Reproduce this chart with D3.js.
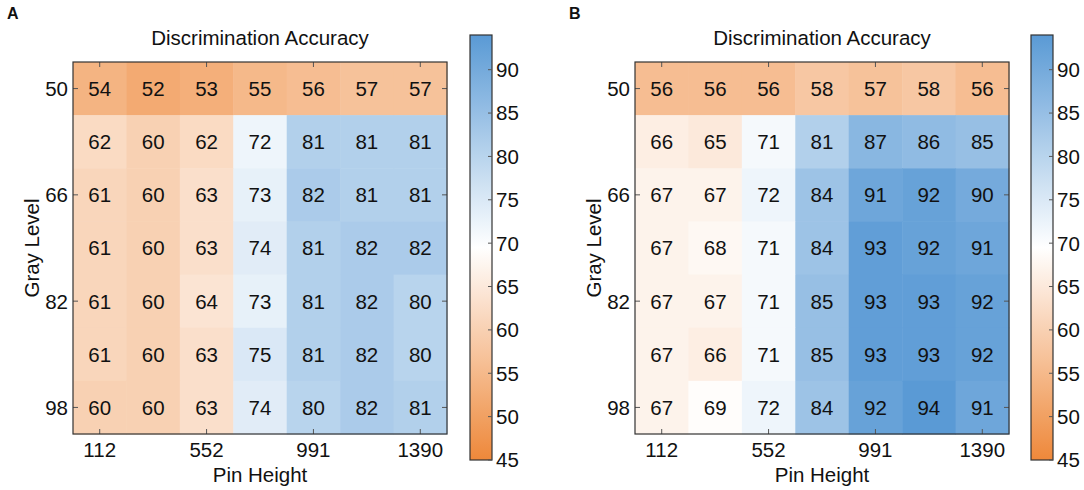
<!DOCTYPE html>
<html>
<head>
<meta charset="utf-8">
<script src="https://cdn.jsdelivr.net/npm/d3@7"></script>
<style>
  body { margin: 0; background: #fff; }
  svg text { font-family: Arial, "Liberation Sans", sans-serif; fill: #111; }
</style>
</head>
<body>
<svg id="chart" width="1084" height="490"></svg>
<script>
// rows = gray level, columns = pin height
var grayLevels = [50, 58, 66, 74, 82, 90, 98];
var pinIndex = [0, 1, 2, 3, 4, 5, 6];
var yTickValues = [50, 66, 82, 98];
var xTickIndex = [0, 2, 4, 6];
var xTickLabels = ["112", "552", "991", "1390"];
var cbarTicks = [45, 50, 55, 60, 65, 70, 75, 80, 85, 90];

var accuracyA = [
    [54, 52, 53, 55, 56, 57, 57],
    [62, 60, 62, 72, 81, 81, 81],
    [61, 60, 63, 73, 82, 81, 81],
    [61, 60, 63, 74, 81, 82, 82],
    [61, 60, 64, 73, 81, 82, 80],
    [61, 60, 63, 75, 81, 82, 80],
    [60, 60, 63, 74, 80, 82, 81]
];
var accuracyB = [
    [56, 56, 56, 58, 57, 58, 56],
    [66, 65, 71, 81, 87, 86, 85],
    [67, 67, 72, 84, 91, 92, 90],
    [67, 68, 71, 84, 93, 92, 91],
    [67, 67, 71, 85, 93, 93, 92],
    [67, 66, 71, 85, 93, 93, 92],
    [67, 69, 72, 84, 92, 94, 91]
];

var vmin = 45, vmax = 94;
var color = d3.scaleLinear()
    .domain([vmin, (vmin + vmax) / 2, vmax])
    .range(["#ee883a", "#ffffff", "#5a9ad5"]);

var svg = d3.select("#chart");
var fs = "20.5px";

function drawPanel(letter, data, left, cbLeft) {
    var top = 62, bottom = 434, right = left + 374;
    var g = svg.append("g");

    var x = d3.scaleBand().domain(pinIndex).range([left, right]);
    var y = d3.scaleBand().domain(grayLevels).range([top, bottom]);

    // cells
    var cells = [];
    data.forEach(function(row, i) {
        row.forEach(function(v, j) {
            cells.push({row: grayLevels[i], col: pinIndex[j], value: v});
        });
    });

    g.selectAll(".cell")
        .data(cells)
        .enter().append("rect")
        .attr("class", "cell")
        .attr("x", function(d) { return x(d.col); })
        .attr("y", function(d) { return y(d.row); })
        .attr("width", x.bandwidth() + 0.5)
        .attr("height", y.bandwidth() + 0.5)
        .style("fill", function(d) { return color(d.value); });

    g.selectAll(".lbl")
        .data(cells)
        .enter().append("text")
        .attr("class", "lbl")
        .attr("x", function(d) { return x(d.col) + x.bandwidth() / 2; })
        .attr("y", function(d) { return y(d.row) + y.bandwidth() / 2; })
        .attr("dy", "0.36em")
        .attr("text-anchor", "middle")
        .style("font-size", fs)
        .text(function(d) { return d.value; });

    // inward ticks on all four sides
    var tickLen = 5;
    xTickIndex.forEach(function(c) {
        var cx = x(c) + x.bandwidth() / 2;
        g.append("line").attr("x1", cx).attr("x2", cx).attr("y1", bottom).attr("y2", bottom - tickLen).style("stroke", "#555");
        g.append("line").attr("x1", cx).attr("x2", cx).attr("y1", top).attr("y2", top + tickLen).style("stroke", "#555");
    });
    yTickValues.forEach(function(r) {
        var cy = y(r) + y.bandwidth() / 2;
        g.append("line").attr("x1", left).attr("x2", left + tickLen).attr("y1", cy).attr("y2", cy).style("stroke", "#555");
        g.append("line").attr("x1", right).attr("x2", right - tickLen).attr("y1", cy).attr("y2", cy).style("stroke", "#555");
    });

    g.append("rect")
        .attr("x", left).attr("y", top)
        .attr("width", right - left).attr("height", bottom - top)
        .style("fill", "none").style("stroke", "#333").style("stroke-width", 1.2);

    // tick labels
    g.selectAll(".xt")
        .data(xTickIndex)
        .enter().append("text")
        .attr("x", function(d) { return x(d) + x.bandwidth() / 2; })
        .attr("y", bottom + 23)
        .attr("text-anchor", "middle")
        .style("font-size", fs)
        .text(function(d, i) { return xTickLabels[i]; });

    g.selectAll(".yt")
        .data(yTickValues)
        .enter().append("text")
        .attr("x", left - 5)
        .attr("y", function(d) { return y(d) + y.bandwidth() / 2; })
        .attr("dy", "0.36em")
        .attr("text-anchor", "end")
        .style("font-size", fs)
        .text(function(d) { return d; });

    // titles
    g.append("text")
        .attr("x", (left + right) / 2).attr("y", 45)
        .attr("text-anchor", "middle")
        .style("font-size", fs)
        .text("Discrimination Accuracy");
    g.append("text")
        .attr("x", (left + right) / 2).attr("y", 482)
        .attr("text-anchor", "middle")
        .style("font-size", fs)
        .text("Pin Height");
    g.append("text")
        .attr("transform", "translate(" + (left - 34) + "," + ((top + bottom) / 2) + ") rotate(-90)")
        .attr("text-anchor", "middle")
        .style("font-size", fs)
        .text("Gray Level");
    g.append("text")
        .attr("x", left - 66).attr("y", 19)
        .style("font-size", "16px")
        .style("font-weight", "bold")
        .text(letter);

    // colorbar
    var cbTop = 35, cbBottom = 460, cbW = 22;
    var cy = d3.scaleLinear().domain([vmin, vmax]).range([cbBottom, cbTop]);
    var gradId = "grad" + letter;
    var grad = svg.append("defs").append("linearGradient")
        .attr("id", gradId)
        .attr("x1", "0").attr("y1", "1").attr("x2", "0").attr("y2", "0");
    d3.range(0, 1.0001, 0.05).forEach(function(t) {
        grad.append("stop")
            .attr("offset", t)
            .attr("stop-color", color(vmin + t * (vmax - vmin)));
    });
    g.append("rect")
        .attr("x", cbLeft).attr("y", cbTop)
        .attr("width", cbW).attr("height", cbBottom - cbTop)
        .style("fill", "url(#" + gradId + ")")
        .style("stroke", "#333").style("stroke-width", 1.2);

    g.selectAll(".cbt")
        .data(cbarTicks)
        .enter().append("line")
        .attr("x1", cbLeft + cbW).attr("x2", cbLeft + cbW - 4)
        .attr("y1", function(d) { return cy(d); })
        .attr("y2", function(d) { return cy(d); })
        .style("stroke", "#555");

    g.selectAll(".cbl")
        .data(cbarTicks)
        .enter().append("text")
        .attr("x", cbLeft + cbW + 4)
        .attr("y", function(d) { return cy(d); })
        .attr("dy", "0.36em")
        .style("font-size", fs)
        .text(function(d) { return d; });
}

drawPanel("A", accuracyA, 73, 470);
drawPanel("B", accuracyB, 635, 1031);
</script>
</body>
</html>
